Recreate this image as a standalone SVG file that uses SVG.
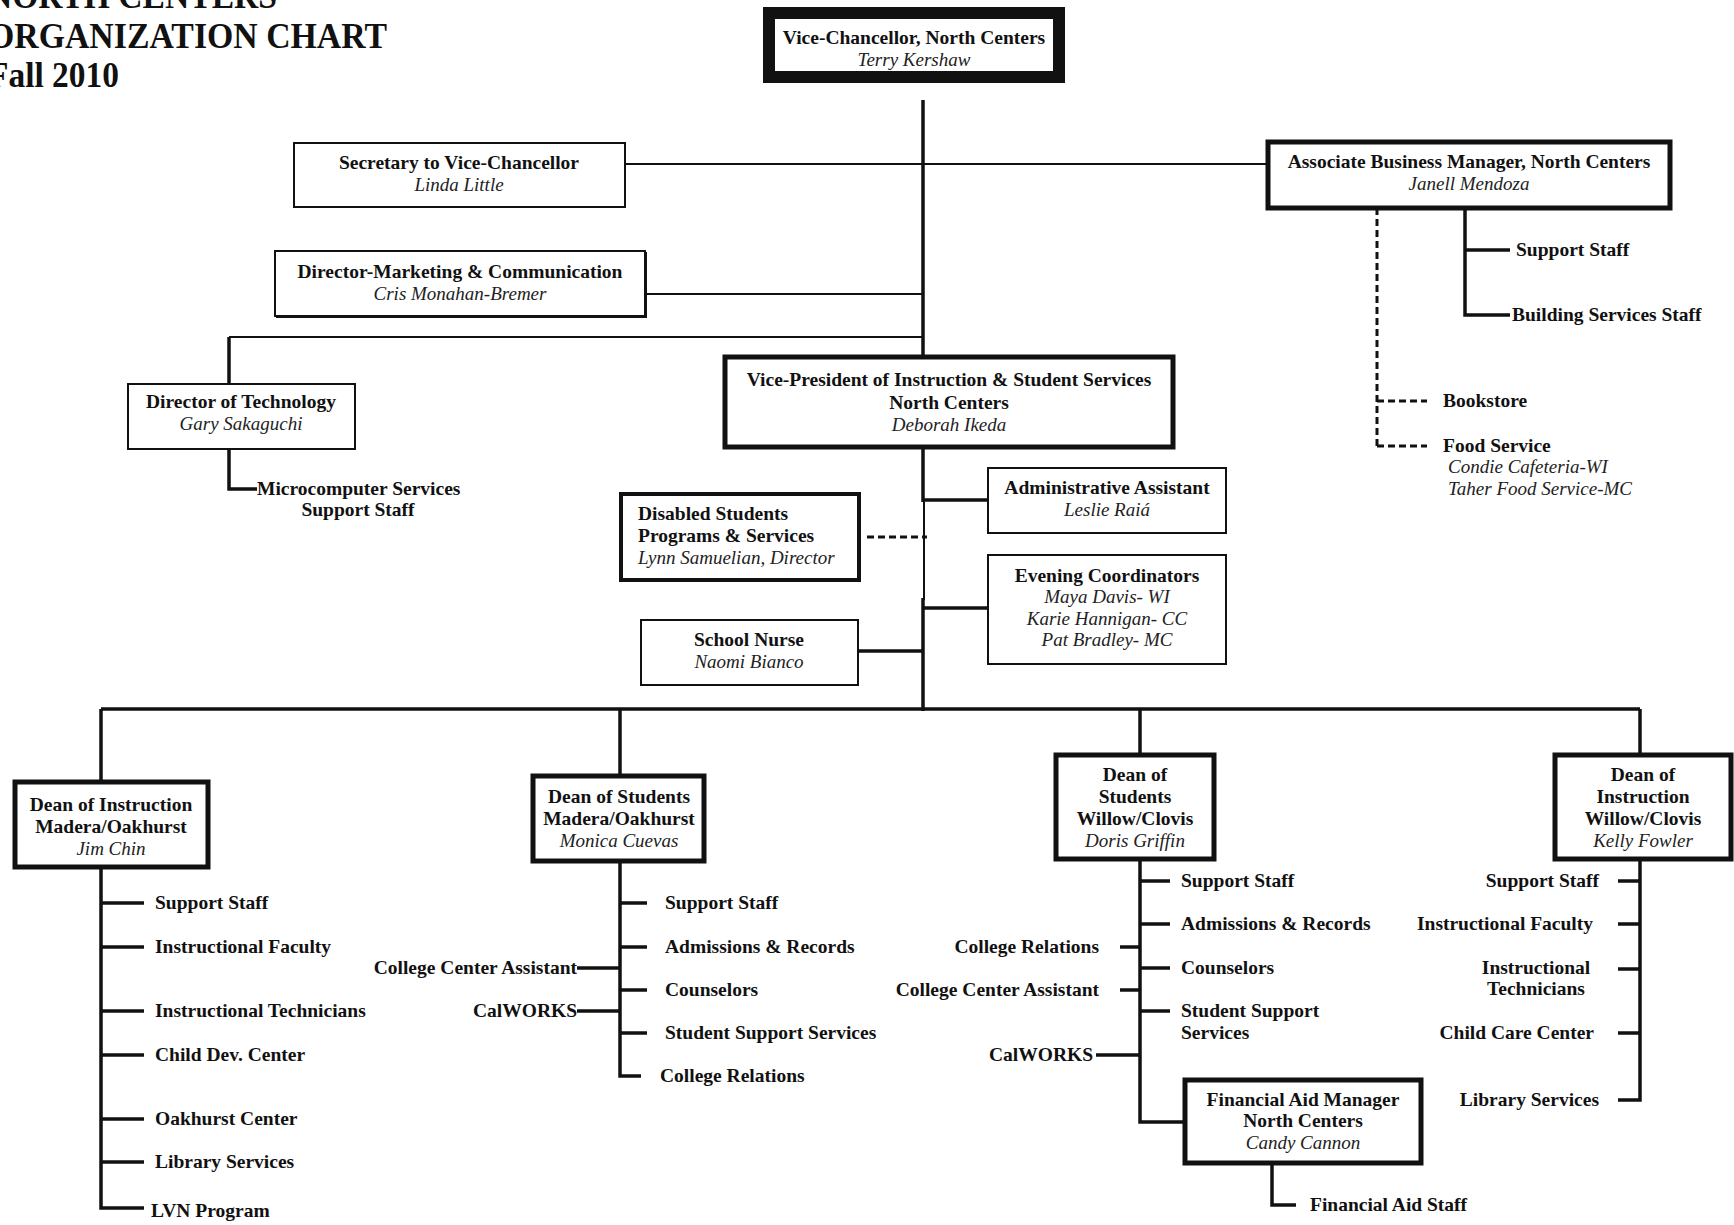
<svg xmlns="http://www.w3.org/2000/svg" width="1734" height="1225" viewBox="0 0 1734 1225">
<style>
text{font-family:"Liberation Serif","Times New Roman",serif;fill:#111}
.b{font-weight:bold;font-size:19.5px}
.i{font-style:italic;font-size:19px;fill:#222}
.t{font-weight:bold;font-size:36px}
.c{text-anchor:middle}
.r{text-anchor:end}
.box{fill:#fff;stroke:#111;stroke-width:2}
.bx{fill:#fff;stroke:#111;stroke-width:5}
.ln{fill:none;stroke:#111;stroke-width:3.5}
.th{fill:none;stroke:#111;stroke-width:2}
.ds{fill:none;stroke:#111;stroke-width:3;stroke-dasharray:7 4}
</style>
<rect width="1734" height="1225" fill="#fff"/>
<g id="title">
<text class="t" x="-12" y="8" textLength="289" lengthAdjust="spacingAndGlyphs">NORTH CENTERS</text>
<text class="t" x="-12" y="48" textLength="399" lengthAdjust="spacingAndGlyphs">ORGANIZATION CHART</text>
<text class="t" x="-12" y="87" textLength="131" lengthAdjust="spacingAndGlyphs">Fall 2010</text>
</g>
<g id="connectors">
<line class="ln" x1="923" y1="100" x2="923" y2="502"/>
<line class="th" x1="924" y1="500" x2="924" y2="600" stroke-width="2.5"/>
<line class="ln" x1="923" y1="598" x2="923" y2="711"/>
<line class="th" x1="620" y1="164" x2="1268" y2="164"/>
<line class="th" x1="645" y1="294" x2="923" y2="294"/>
<polyline class="th" points="923,337 229,337"/>
<line class="ln" x1="229" y1="337" x2="229" y2="384"/>
<polyline class="ln" points="229,449 229,489 257,489"/>
<polyline class="ln" points="1465,208 1465,315 1510,315"/>
<line class="ln" x1="1465" y1="250" x2="1510" y2="250"/>
<line class="ds" x1="1377" y1="208" x2="1377" y2="446" stroke-dasharray="6 3"/>
<line class="ds" x1="1377" y1="401" x2="1427" y2="401" stroke-dasharray="8 6"/>
<line class="ds" x1="1377" y1="446" x2="1427" y2="446" stroke-dasharray="8 6"/>
<line class="ln" x1="923" y1="500" x2="988" y2="500"/>
<line class="ln" x1="923" y1="608" x2="988" y2="608"/>
<line class="ds" x1="867" y1="537" x2="927" y2="537"/>
<line class="ln" x1="858" y1="651" x2="923" y2="651"/>
<line class="ln" x1="101" y1="709" x2="1640" y2="709" stroke-width="4"/>
<line class="ln" x1="101" y1="709" x2="101" y2="780"/>
<line class="ln" x1="620" y1="709" x2="620" y2="774"/>
<line class="ln" x1="1140" y1="709" x2="1140" y2="753"/>
<line class="ln" x1="1640" y1="709" x2="1640" y2="753"/>
<polyline class="ln" points="101,869 101,1208 144,1208"/>
<line class="ln" x1="101" y1="903" x2="144" y2="903"/>
<line class="ln" x1="101" y1="947" x2="144" y2="947"/>
<line class="ln" x1="101" y1="1011" x2="144" y2="1011"/>
<line class="ln" x1="101" y1="1055" x2="144" y2="1055"/>
<line class="ln" x1="101" y1="1119" x2="144" y2="1119"/>
<line class="ln" x1="101" y1="1162" x2="144" y2="1162"/>
<polyline class="ln" points="620,863 620,1076 641,1076"/>
<line class="ln" x1="620" y1="903" x2="647" y2="903"/>
<line class="ln" x1="620" y1="947" x2="647" y2="947"/>
<line class="ln" x1="620" y1="990" x2="647" y2="990"/>
<line class="ln" x1="620" y1="1033" x2="647" y2="1033"/>
<line class="ln" x1="577" y1="968" x2="620" y2="968"/>
<line class="ln" x1="577" y1="1011" x2="620" y2="1011"/>
<polyline class="ln" points="1140,861 1140,1122 1183,1122"/>
<line class="ln" x1="1140" y1="881" x2="1170" y2="881"/>
<line class="ln" x1="1140" y1="924" x2="1170" y2="924"/>
<line class="ln" x1="1140" y1="968" x2="1170" y2="968"/>
<line class="ln" x1="1140" y1="1011" x2="1170" y2="1011"/>
<line class="ln" x1="1120" y1="947" x2="1140" y2="947"/>
<line class="ln" x1="1120" y1="990" x2="1140" y2="990"/>
<line class="ln" x1="1096" y1="1055" x2="1140" y2="1055"/>
<polyline class="ln" points="1272,1165 1272,1205 1296,1205"/>
<polyline class="ln" points="1640,861 1640,1100 1618,1100"/>
<line class="ln" x1="1618" y1="881" x2="1640" y2="881"/>
<line class="ln" x1="1618" y1="924" x2="1640" y2="924"/>
<line class="ln" x1="1618" y1="969" x2="1640" y2="969"/>
<line class="ln" x1="1618" y1="1033" x2="1640" y2="1033"/>
</g>
<g id="vc">
<rect x="769" y="13" width="290" height="64" fill="#fff" stroke="#111" stroke-width="12"/>
<text class="b c" x="914" y="44">Vice-Chancellor, North Centers</text>
<text class="i c" x="914" y="66">Terry Kershaw</text>
</g>
<g id="secretary">
<rect class="box" x="294" y="143" width="331" height="64"/>
<text class="b c" x="459" y="169">Secretary to Vice-Chancellor</text>
<text class="i c" x="459" y="191">Linda Little</text>
</g>
<g id="abm">
<rect class="bx" x="1268" y="142" width="402" height="66"/>
<text class="b c" x="1469" y="168">Associate Business Manager, North Centers</text>
<text class="i c" x="1469" y="190">Janell Mendoza</text>
</g>
<g id="abm-children">
<text class="b" x="1516" y="256">Support Staff</text>
<text class="b" x="1512" y="321">Building Services Staff</text>
<text class="b" x="1443" y="407">Bookstore</text>
<text class="b" x="1443" y="452">Food Service</text>
<text class="i" x="1448" y="473">Condie Cafeteria-WI</text>
<text class="i" x="1448" y="495">Taher Food Service-MC</text>
</g>
<g id="marketing">
<rect class="box" x="275" y="251" width="370" height="65"/>
<polyline class="th" points="276,317 646,317 646,252"/>
<text class="b c" x="460" y="278">Director-Marketing &amp; Communication</text>
<text class="i c" x="460" y="300">Cris Monahan-Bremer</text>
</g>
<g id="technology">
<rect class="box" x="128" y="384" width="227" height="65"/>
<text class="b c" x="241" y="408">Director of Technology</text>
<text class="i c" x="241" y="430">Gary Sakaguchi</text>
<text class="b" x="257" y="495">Microcomputer Services</text>
<text class="b c" x="358" y="516">Support Staff</text>
</g>
<g id="vp">
<rect class="bx" x="725" y="357" width="448" height="90"/>
<text class="b c" x="949" y="386">Vice-President of Instruction &amp; Student Services</text>
<text class="b c" x="949" y="409">North Centers</text>
<text class="i c" x="949" y="431">Deborah Ikeda</text>
</g>
<g id="admin">
<rect class="box" x="988" y="468" width="238" height="65"/>
<text class="b c" x="1107" y="494">Administrative Assistant</text>
<text class="i c" x="1107" y="516">Leslie Raiá</text>
</g>
<g id="evening">
<rect class="box" x="988" y="555" width="238" height="109"/>
<text class="b c" x="1107" y="582">Evening Coordinators</text>
<text class="i c" x="1107" y="603">Maya Davis- WI</text>
<text class="i c" x="1107" y="625">Karie Hannigan- CC</text>
<text class="i c" x="1107" y="646">Pat Bradley- MC</text>
</g>
<g id="dsps">
<rect x="621" y="494" width="238" height="86" fill="#fff" stroke="#111" stroke-width="4"/>
<text class="b" x="638" y="520">Disabled Students</text>
<text class="b" x="638" y="542">Programs &amp; Services</text>
<text class="i" x="638" y="564">Lynn Samuelian, Director</text>
</g>
<g id="nurse">
<rect class="box" x="641" y="620" width="217" height="65"/>
<text class="b c" x="749" y="646">School Nurse</text>
<text class="i c" x="749" y="668">Naomi Bianco</text>
</g>
<g id="dean-instr-mo">
<rect class="bx" x="15" y="782" width="193" height="85"/>
<text class="b c" x="111" y="811">Dean of Instruction</text>
<text class="b c" x="111" y="833">Madera/Oakhurst</text>
<text class="i c" x="111" y="855">Jim Chin</text>
<text class="b" x="155" y="909">Support Staff</text>
<text class="b" x="155" y="953">Instructional Faculty</text>
<text class="b" x="155" y="1017">Instructional Technicians</text>
<text class="b" x="155" y="1061">Child Dev. Center</text>
<text class="b" x="155" y="1125">Oakhurst Center</text>
<text class="b" x="155" y="1168">Library Services</text>
<text class="b" x="151" y="1217">LVN Program</text>
</g>
<g id="dean-stu-mo">
<rect class="bx" x="533" y="776" width="171" height="85"/>
<text class="b c" x="619" y="803">Dean of Students</text>
<text class="b c" x="619" y="825">Madera/Oakhurst</text>
<text class="i c" x="619" y="847">Monica Cuevas</text>
<text class="b" x="665" y="909">Support Staff</text>
<text class="b" x="665" y="953">Admissions &amp; Records</text>
<text class="b" x="665" y="996">Counselors</text>
<text class="b" x="665" y="1039">Student Support Services</text>
<text class="b" x="660" y="1082">College Relations</text>
<text class="b r" x="577" y="974">College Center Assistant</text>
<text class="b r" x="577" y="1017">CalWORKS</text>
</g>
<g id="dean-stu-wc">
<rect class="bx" x="1056" y="755" width="158" height="104"/>
<text class="b c" x="1135" y="781">Dean of</text>
<text class="b c" x="1135" y="803">Students</text>
<text class="b c" x="1135" y="825">Willow/Clovis</text>
<text class="i c" x="1135" y="847">Doris Griffin</text>
<text class="b" x="1181" y="887">Support Staff</text>
<text class="b" x="1181" y="930">Admissions &amp; Records</text>
<text class="b" x="1181" y="974">Counselors</text>
<text class="b" x="1181" y="1017">Student Support</text>
<text class="b" x="1181" y="1039">Services</text>
<text class="b r" x="1099" y="953">College Relations</text>
<text class="b r" x="1099" y="996">College Center Assistant</text>
<text class="b r" x="1093" y="1061">CalWORKS</text>
</g>
<g id="finaid">
<rect class="bx" x="1185" y="1080" width="236" height="83"/>
<text class="b c" x="1303" y="1106">Financial Aid Manager</text>
<text class="b c" x="1303" y="1127">North Centers</text>
<text class="i c" x="1303" y="1149">Candy Cannon</text>
<text class="b" x="1310" y="1211">Financial Aid Staff</text>
</g>
<g id="dean-instr-wc">
<rect class="bx" x="1555" y="755" width="176" height="104"/>
<text class="b c" x="1643" y="781">Dean of</text>
<text class="b c" x="1643" y="803">Instruction</text>
<text class="b c" x="1643" y="825">Willow/Clovis</text>
<text class="i c" x="1643" y="847">Kelly Fowler</text>
<text class="b r" x="1599" y="887">Support Staff</text>
<text class="b r" x="1593" y="930">Instructional Faculty</text>
<text class="b c" x="1536" y="974">Instructional</text>
<text class="b c" x="1536" y="995">Technicians</text>
<text class="b r" x="1594" y="1039">Child Care Center</text>
<text class="b r" x="1599" y="1106">Library Services</text>
</g>
</svg>
